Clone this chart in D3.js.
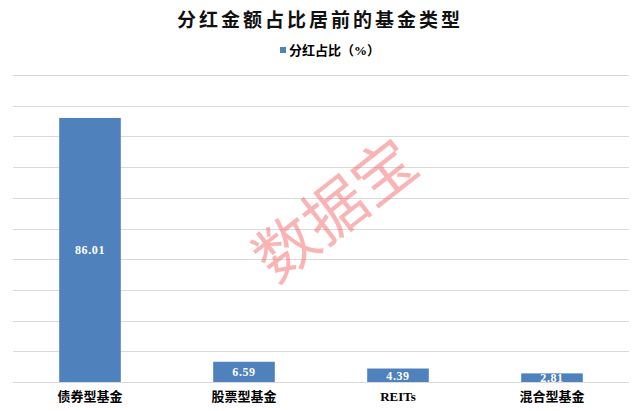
<!DOCTYPE html>
<html><head><meta charset="utf-8">
<script src="https://cdn.jsdelivr.net/npm/d3@7"></script>
<style>body{margin:0;background:#fff}svg{display:block}</style>
</head><body>
<script>
const categories = ["债券型基金", "股票型基金", "REITs", "混合型基金"];
const values = [86.01, 6.59, 4.39, 2.81];
const yTicks = [0, 10, 20, 30, 40, 50, 60, 70, 80, 90, 100];
const title = "分红金额占比居前的基金类型";
const seriesName = "分红占比（%）";
const watermark = "数据宝";

const W = 640, H = 411;
const m = {left: 13, right: 11, top: 75, bottom: 29};
const svg = d3.select("body").append("svg").attr("width", W).attr("height", H);
const fontCN = "'Liberation Serif','Noto Sans CJK SC',serif";

const x = d3.scaleBand().domain(categories).range([m.left, W - m.right]).paddingInner(0.6).paddingOuter(0.3);
const y = d3.scaleLinear().domain([0, 100]).range([H - m.bottom, m.top]);

// gridlines
svg.append("g").selectAll("line").data(yTicks).join("line")
  .attr("x1", m.left).attr("x2", W - m.right)
  .attr("y1", d => Math.round(y(d)) + 0.5).attr("y2", d => Math.round(y(d)) + 0.5)
  .attr("stroke", "#d9d9d9").attr("stroke-width", 1);

// bars
svg.append("g").selectAll("rect").data(values).join("rect")
  .attr("x", (d, i) => x(categories[i]))
  .attr("width", x.bandwidth())
  .attr("y", d => y(d))
  .attr("height", d => y(0) - y(d))
  .attr("fill", "#4f81bd");

// data labels
svg.append("g").selectAll("text").data(values).join("text")
  .attr("x", (d, i) => x(categories[i]) + x.bandwidth() / 2)
  .attr("y", d => (y(d) + y(0)) / 2)
  .attr("dy", "0.36em")
  .attr("text-anchor", "middle")
  .attr("fill", "#fff").attr("font-weight", "bold")
  .attr("font-family", fontCN).attr("font-size", 12).attr("letter-spacing", 0.6)
  .text(d => d.toFixed(2));

// x axis labels
const xAxis = d3.axisBottom(x).tickSize(0).tickPadding(10);
const gx = svg.append("g").attr("transform", `translate(0,${y(0)})`).call(xAxis);
gx.select(".domain").remove();
gx.selectAll("text").attr("font-family", fontCN).attr("font-size", 13)
  .attr("font-weight", "bold").attr("fill", "#000");

// watermark
svg.append("text")
  .attr("transform", "translate(335,210) rotate(-38)")
  .attr("text-anchor", "middle").attr("dy", "0.36em")
  .attr("font-family", "'Noto Sans CJK SC'").attr("font-size", 62)
  .attr("fill", "#f46b6b").attr("fill-opacity", 0.5)
  .text(watermark);

// title
svg.append("text").attr("x", W / 2).attr("y", 20).attr("dy", "0.36em")
  .attr("text-anchor", "middle").attr("font-family", fontCN)
  .attr("font-size", 19).attr("font-weight", "bold").attr("letter-spacing", 3)
  .attr("fill", "#111").text(title);

// legend
const lg = svg.append("g");
lg.append("rect").attr("x", 280).attr("y", 47).attr("width", 6).attr("height", 6).attr("fill", "#4f81bd");
lg.append("text").attr("x", 289).attr("y", 50).attr("dy", "0.36em")
  .attr("font-family", fontCN).attr("font-size", 13).attr("font-weight", "bold")
  .attr("fill", "#000").text(seriesName);
</script>
</body></html>
